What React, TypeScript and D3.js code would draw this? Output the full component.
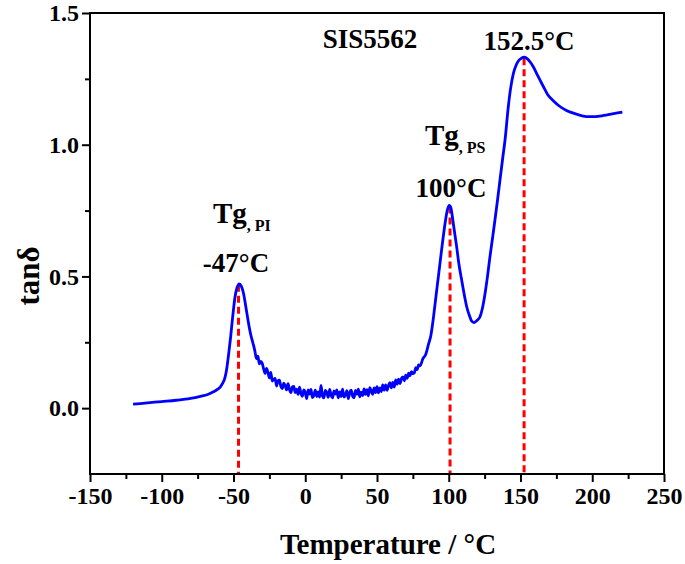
import React, { useEffect, useRef } from "react";
import * as d3 from "d3";

// Temperature (°C)
const temps: number[] = [
  -120, -110, -100, -90, -80, -73, -68, -64, -61, -59, -57.5, -56, -55, -53.5, -52, -50.5, -49, -47.5, -46, -44.5, -43, -41.5, -40, -38.5, -37, -36,
  -35, -34, -33, -32, -31, -30, -29, -28, -27, -26, -25, -24, -23, -22, -21, -20, -19, -18, -17, -16, -15, -14, -13, -12, -11, -10,
  -9, -8, -7, -6, -5, -4, -3, -2, -1, 0, 1, 2, 3, 4, 5, 6, 7, 8, 9, 10, 11, 12, 13, 14, 15, 16, 17, 18, 19, 20,
  21, 22, 23, 24, 25, 26, 27, 28, 29, 30, 31, 32, 33, 34, 35, 36, 37, 38, 39, 40, 41, 42, 43, 44, 45, 46, 47, 48, 49, 50,
  51, 52, 53, 54, 55, 56, 57, 58, 59, 60, 61, 62, 63, 64, 65, 66, 67, 68, 69, 70, 71, 72, 73, 74, 75, 76, 77, 78, 79, 80,
  82, 84, 86, 87.5, 89, 91, 93, 95, 97.4, 99, 100.4, 101.5, 103.2, 105.5, 107, 109, 111, 112.5, 114.5, 116, 117.5, 119.5,
  121.8, 123.5, 125.3, 127, 128.7, 130.5, 132.2, 134, 135.7, 137.5, 139.2, 141.5, 143, 145, 146.8, 148.5, 150.5, 152.6, 155, 157,
  159, 162, 166, 169, 173, 177, 182, 189, 196, 202, 208, 214, 221,
];
// tan δ (noisy region kept as read)
const tanDelta: number[] = [
  0.015, 0.02, 0.025, 0.03, 0.037, 0.045, 0.052, 0.062, 0.072, 0.082, 0.095, 0.115, 0.14, 0.2, 0.27, 0.35, 0.42, 0.458, 0.472, 0.462, 0.435, 0.388, 0.338, 0.292, 0.258, 0.238,
  0.214, 0.188, 0.197, 0.168, 0.177, 0.17, 0.149, 0.132, 0.151, 0.136, 0.115, 0.136, 0.103, 0.108, 0.113, 0.084, 0.103, 0.106, 0.083, 0.074, 0.095, 0.085, 0.069, 0.093, 0.071, 0.059,
  0.081, 0.083, 0.059, 0.072, 0.052, 0.08, 0.056, 0.045, 0.069, 0.06, 0.036, 0.069, 0.053, 0.071, 0.04, 0.048, 0.068, 0.044, 0.062, 0.042, 0.086, 0.046, 0.039, 0.067, 0.059, 0.041, 0.071, 0.049, 0.039, 0.065,
  0.053, 0.069, 0.039, 0.062, 0.044, 0.072, 0.042, 0.05, 0.066, 0.036, 0.06, 0.068, 0.045, 0.039, 0.067, 0.052, 0.072, 0.043, 0.061, 0.048, 0.073, 0.052, 0.07, 0.047, 0.078, 0.065, 0.052, 0.077, 0.059, 0.082,
  0.058, 0.077, 0.063, 0.088, 0.068, 0.088, 0.068, 0.086, 0.097, 0.077, 0.098, 0.08, 0.107, 0.091, 0.11, 0.093, 0.112, 0.119, 0.104, 0.125, 0.113, 0.133, 0.123, 0.139, 0.131, 0.134, 0.154, 0.146, 0.164, 0.161,
  0.188, 0.205, 0.245, 0.275, 0.33, 0.42, 0.51, 0.6, 0.7, 0.752, 0.77, 0.76, 0.7, 0.613, 0.55, 0.486, 0.425, 0.385, 0.35, 0.33, 0.325, 0.332,
  0.347, 0.38, 0.435, 0.5, 0.574, 0.645, 0.714, 0.79, 0.866, 0.945, 1.017, 1.144, 1.21, 1.27, 1.3, 1.318, 1.328, 1.332, 1.325, 1.312,
  1.295, 1.262, 1.22, 1.19, 1.166, 1.147, 1.13, 1.116, 1.107, 1.107, 1.111, 1.117, 1.124,
];

const xMajorTicks: number[] = [-150, -100, -50, 0, 50, 100, 150, 200, 250];
const xMinorTicks: number[] = [-125, -75, -25, 25, 75, 125, 175, 225];
const yMajorTicks: number[] = [0.0, 0.5, 1.0, 1.5];
const yMinorTicks: number[] = [0.25, 0.75, 1.25];

// Peak markers: temperature, peak tan δ
const peakTemps: number[] = [-46.5, 100.9, 152.5];
const peakValues: number[] = [0.468, 0.765, 1.328];

const FONT = "'Liberation Serif', 'Times New Roman', serif";

export default function App() {
  const ref = useRef<SVGSVGElement>(null);

  useEffect(() => {
    const svg = d3.select(ref.current);
    svg.selectAll("*").remove();

    const left = 90, right = 664, top = 13, bottom = 474;
    const x = d3.scaleLinear().domain([-150, 250]).range([left, right]);
    const y = d3.scaleLinear().domain([-0.25, 1.5]).range([bottom, top]);

    // dashed red peak lines
    peakTemps.forEach((t, i) => {
      svg.append("line")
        .attr("x1", x(t)).attr("x2", x(t))
        .attr("y1", y(peakValues[i])).attr("y2", y(-0.25))
        .attr("stroke", "#ff0000").attr("stroke-width", 3)
        .attr("stroke-dasharray", "7,4");
    });

    // curve
    const data = temps.map((t, i) => [t, tanDelta[i]] as [number, number]);
    const line = d3.line<[number, number]>()
      .x((d) => x(d[0]))
      .y((d) => y(d[1]))
      .curve(d3.curveMonotoneX);
    svg.append("path").datum(data)
      .attr("d", line)
      .attr("fill", "none").attr("stroke", "#0000ff")
      .attr("stroke-width", 2.8).attr("stroke-linejoin", "round");

    // frame
    svg.append("rect")
      .attr("x", left).attr("y", top)
      .attr("width", right - left).attr("height", bottom - top)
      .attr("fill", "none").attr("stroke", "#000").attr("stroke-width", 2);

    const styleAxis = (g: any, fs: number) => {
      g.select(".domain").remove();
      g.selectAll("line").attr("stroke", "#000").attr("stroke-width", 2);
      g.selectAll("text")
        .attr("font-family", FONT).attr("font-weight", "bold")
        .attr("font-size", fs).attr("fill", "#000");
    };

    // x axis
    const gx = svg.append("g").attr("transform", `translate(0,${bottom})`)
      .call(d3.axisBottom(x).tickValues(xMajorTicks).tickSize(8).tickPadding(5)
        .tickFormat((d: any) => String(d)));
    styleAxis(gx, 24);
    const gxm = svg.append("g").attr("transform", `translate(0,${bottom})`)
      .call(d3.axisBottom(x).tickValues(xMinorTicks).tickSize(5).tickFormat(() => ""));
    styleAxis(gxm, 24);

    // y axis
    const gy = svg.append("g").attr("transform", `translate(${left},0)`)
      .call(d3.axisLeft(y).tickValues(yMajorTicks).tickSize(8).tickPadding(3)
        .tickFormat((d: any) => (+d).toFixed(1)));
    styleAxis(gy, 24);
    const gym = svg.append("g").attr("transform", `translate(${left},0)`)
      .call(d3.axisLeft(y).tickValues(yMinorTicks).tickSize(5).tickFormat(() => ""));
    styleAxis(gym, 24);

    const txt = (s: string, tx: number, ty: number, fs: number, anchor = "start") =>
      svg.append("text").attr("x", tx).attr("y", ty)
        .attr("font-family", FONT).attr("font-weight", "bold")
        .attr("font-size", fs).attr("text-anchor", anchor).attr("fill", "#000").text(s);

    // axis titles
    txt("Temperature / °C", 388, 554, 29, "middle");
    svg.append("text")
      .attr("transform", "translate(39,276) rotate(-90)")
      .attr("font-family", FONT).attr("font-weight", "bold")
      .attr("font-size", 31).attr("text-anchor", "middle").text("tanδ");

    // annotations
    txt("SIS5562", 370, 48, 27, "middle");
    txt("152.5°C", 529, 50, 27, "middle");
    txt("100°C", 451, 197, 27, "middle");
    txt("-47°C", 236, 272, 27, "middle");

    const tg = (tx: number, ty: number, sub: string) => {
      const t = svg.append("text").attr("x", tx).attr("y", ty)
        .attr("font-family", FONT).attr("font-weight", "bold")
        .attr("font-size", 29).attr("fill", "#000");
      t.append("tspan").text("Tg");
      t.append("tspan").attr("font-size", 16).attr("dy", 8).text(sub);
    };
    tg(213, 223, ", PI");
    tg(425, 145, ", PS");
  }, []);

  return (
    <svg ref={ref} width={685} height={564}
      style={{ position: "absolute", left: 0, top: 0, background: "#fff" }} />
  );
}
